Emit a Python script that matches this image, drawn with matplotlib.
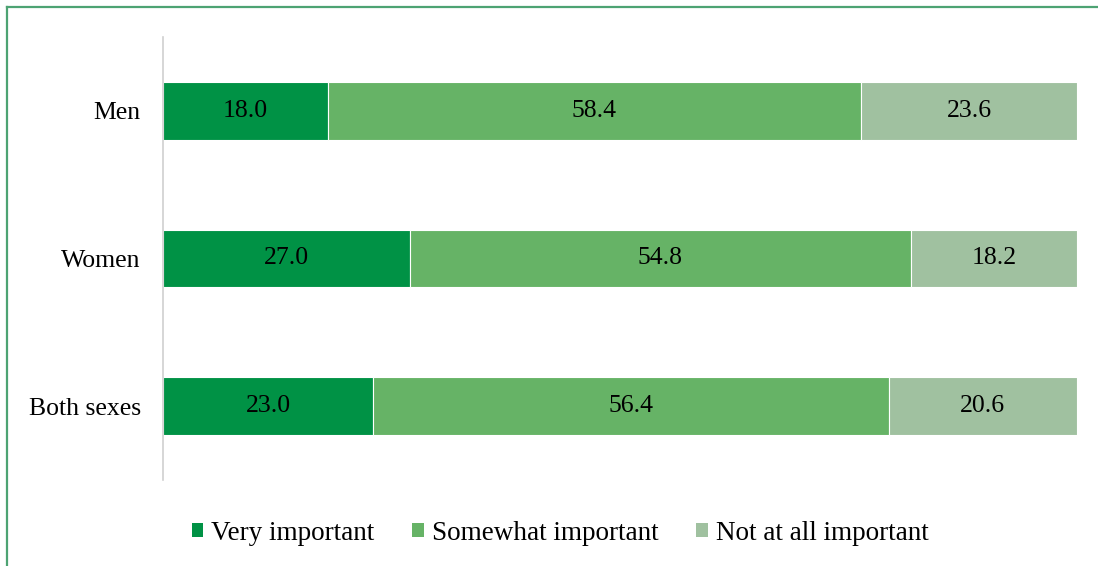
import matplotlib.pyplot as plt
from matplotlib.patches import Patch
from matplotlib.lines import Line2D

plt.rcParams['font.family'] = ['Liberation Serif', 'DejaVu Serif']

groups = ["Both sexes", "Women", "Men"]
very = [23.0, 27.0, 18.0]
somewhat = [56.4, 54.8, 58.4]
not_at_all = [20.6, 18.2, 23.6]

series_names = ["Very important", "Somewhat important", "Not at all important"]
colors = ["#009245", "#66B366", "#A0C1A0"]

fig = plt.figure(figsize=(10.98, 5.66), dpi=100)
ax = fig.add_axes([0.1485, 0.152, 0.8324, 0.7827])

left = [0, 0, 0]
for vals, name, c in zip([very, somewhat, not_at_all], series_names, colors):
    bars = ax.barh(groups, vals, left=left, height=0.39, color=c,
                   edgecolor="white", linewidth=0.8, label=name)
    ax.bar_label(bars, labels=["%.1f" % v for v in vals], label_type="center",
                 fontsize=18.5, color="black")
    left = [a + b for a, b in zip(left, vals)]

ax.set_xlim(0, 100)
ax.set_ylim(-0.5, 2.5)
ax.set_xticks([])
ax.tick_params(axis="y", length=0, labelsize=18.5, pad=16)
for s in ["top", "right", "bottom"]:
    ax.spines[s].set_visible(False)
ax.spines["left"].set_color("#D0D0D0")
ax.spines["left"].set_linewidth(1.2)

handles = [Patch(facecolor=c, edgecolor="none") for c in colors]
fig.legend(handles, series_names, loc="center", bbox_to_anchor=(0.51, 0.058),
           ncol=3, frameon=False, fontsize=19.5, handlelength=0.42,
           handleheight=0.42, handletextpad=0.3, columnspacing=1.4)

# green frame (top and left edges visible)
fig.add_artist(Line2D([7 / 1098, 1], [1 - 7 / 566, 1 - 7 / 566],
                      transform=fig.transFigure, color="#4DA373", linewidth=1.6))
fig.add_artist(Line2D([7 / 1098, 7 / 1098], [0, 1 - 7 / 566],
                      transform=fig.transFigure, color="#4DA373", linewidth=1.6))

fig.savefig("out.png", dpi=100)
